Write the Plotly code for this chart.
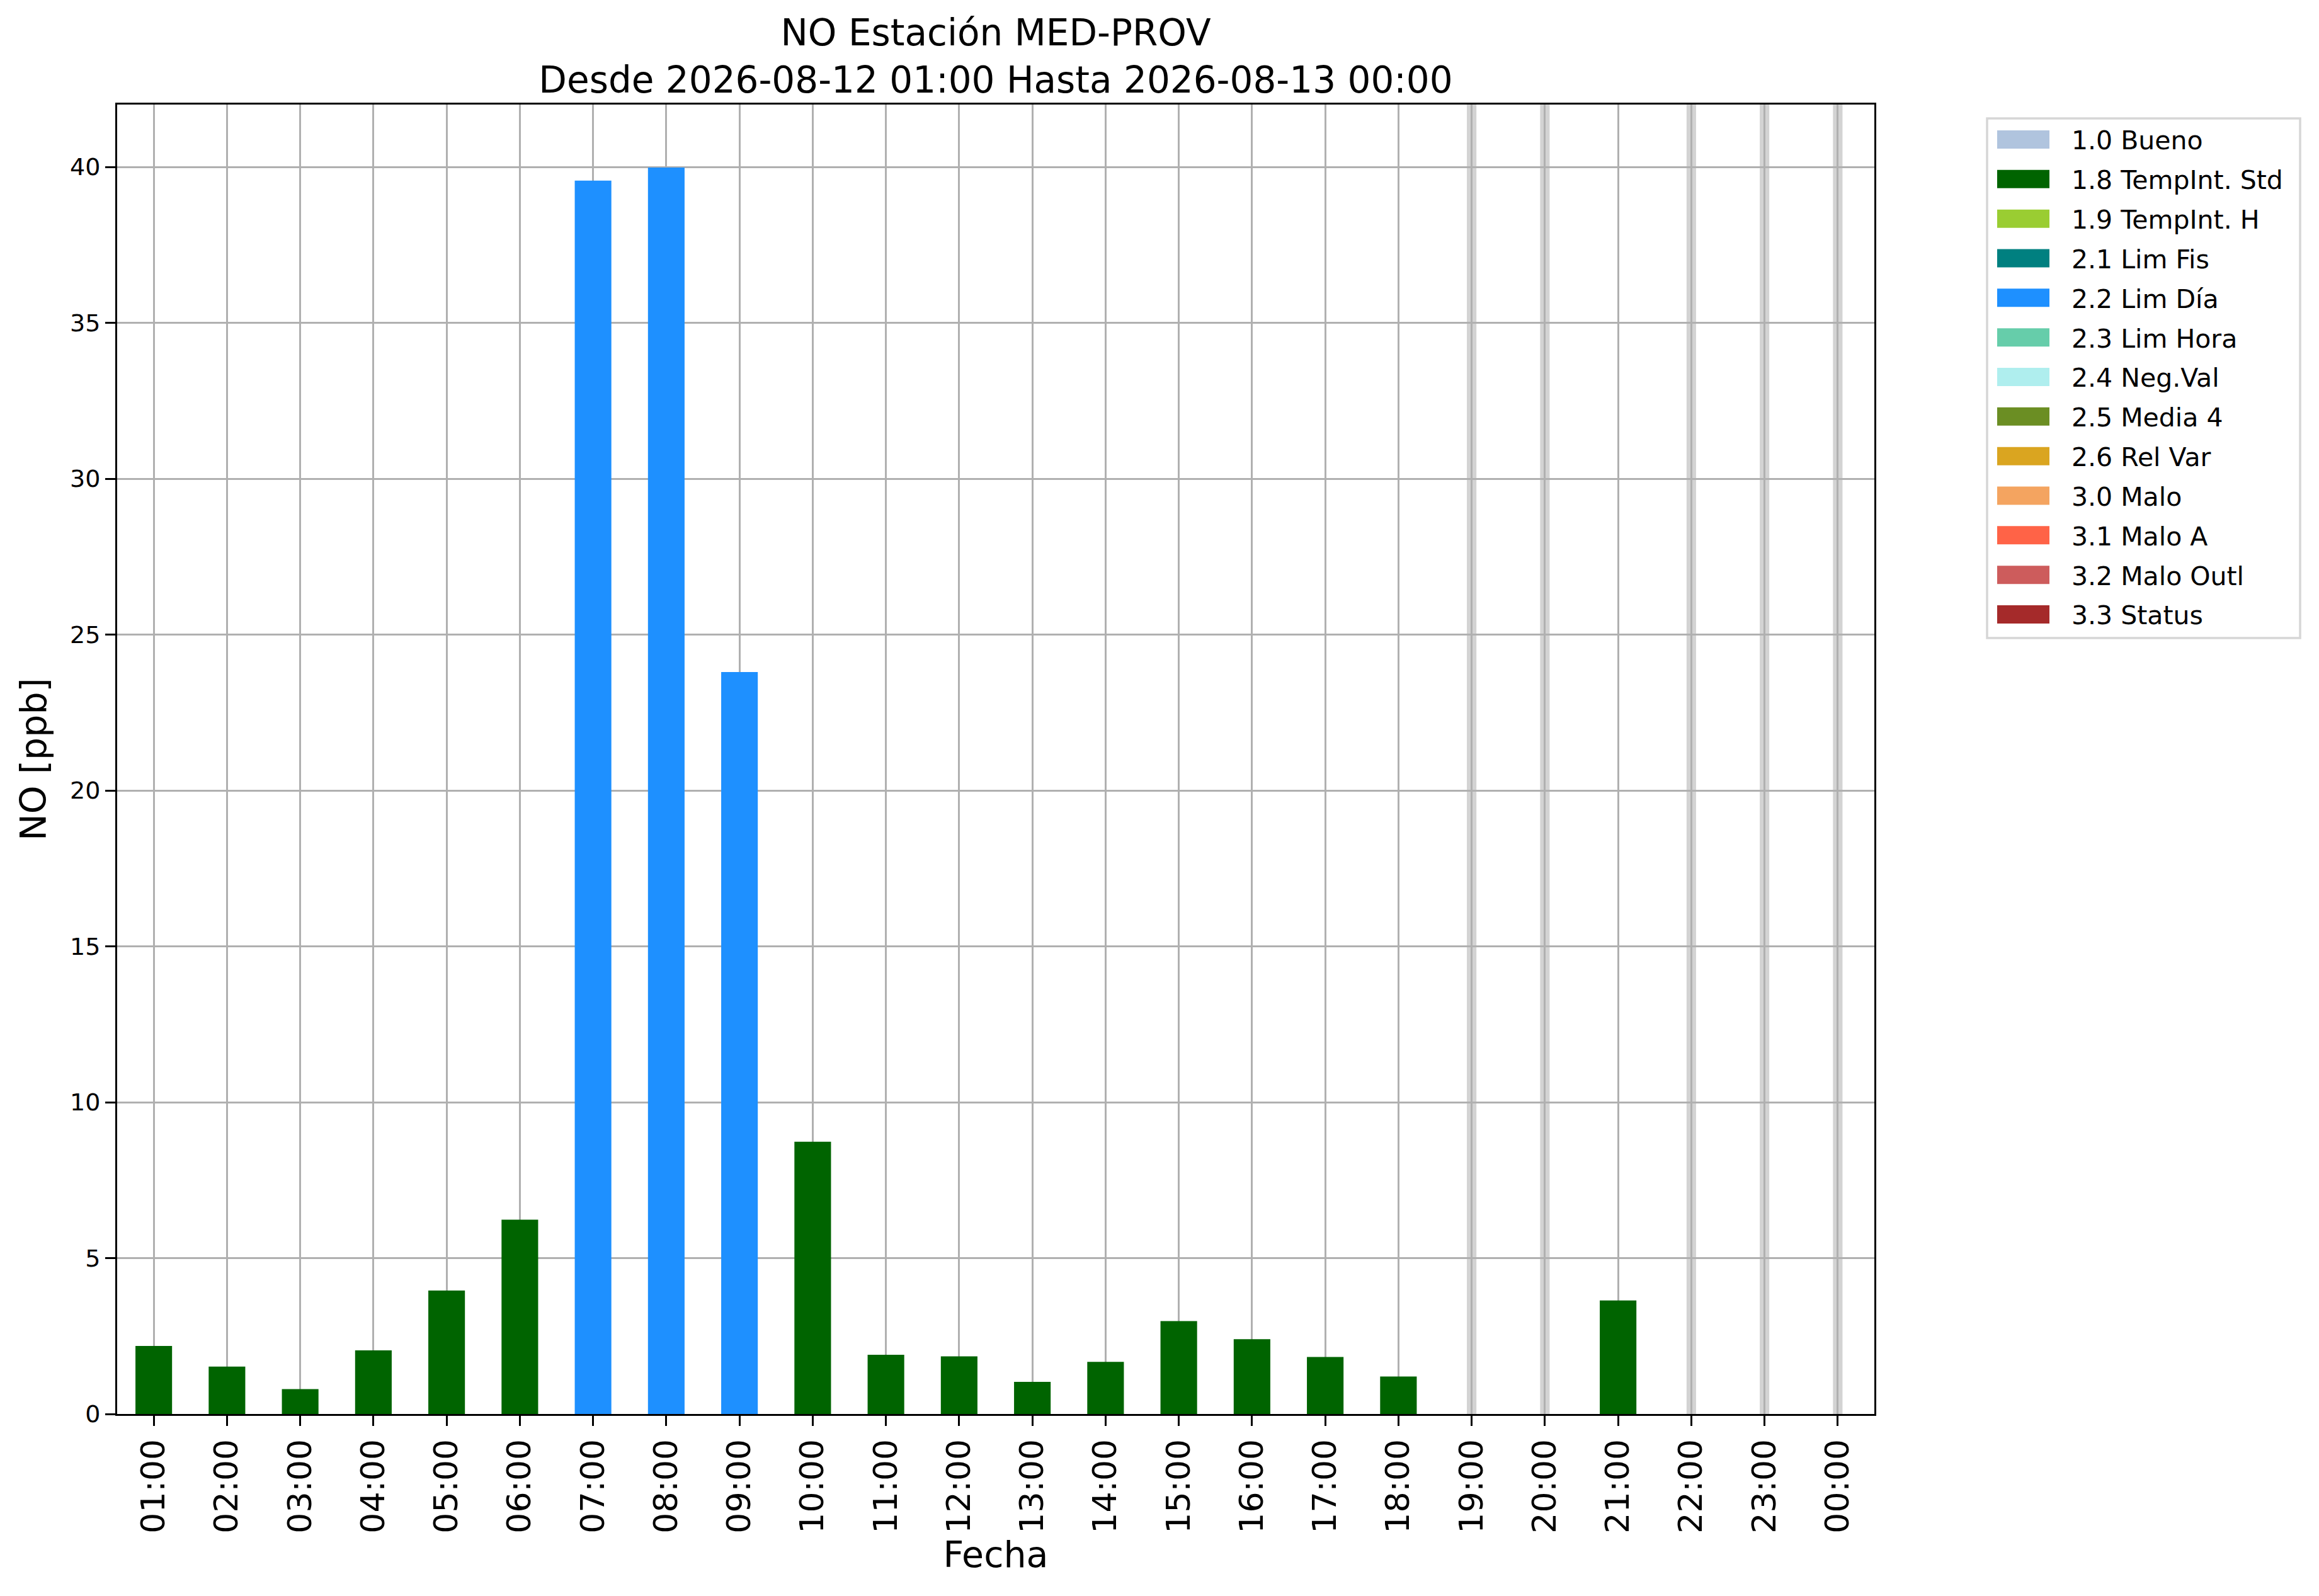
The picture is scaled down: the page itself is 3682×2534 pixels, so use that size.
import plotly.graph_objects as go

# hourly NO data, 2026-08-12 01:00 .. 2026-08-13 00:00
horas = ["01:00", "02:00", "03:00", "04:00", "05:00", "06:00", "07:00", "08:00",
         "09:00", "10:00", "11:00", "12:00", "13:00", "14:00", "15:00", "16:00",
         "17:00", "18:00", "19:00", "20:00", "21:00", "22:00", "23:00", "00:00"]
no_ppb = [2.18, 1.52, 0.80, 2.04, 3.96, 6.23, 39.56, 39.98,
          23.80, 8.73, 1.90, 1.85, 1.03, 1.67, 2.98, 2.40,
          1.83, 1.20, None, None, 3.64, None, None, None]
flag = ["1.8", "1.8", "1.8", "1.8", "1.8", "1.8", "2.2", "2.2",
        "2.2", "1.8", "1.8", "1.8", "1.8", "1.8", "1.8", "1.8",
        "1.8", "1.8", None, None, "1.8", None, None, None]

# flag codes, names and colours of the legend
flag_codes = ["1.0", "1.8", "1.9", "2.1", "2.2", "2.3", "2.4", "2.5", "2.6",
              "3.0", "3.1", "3.2", "3.3"]
flag_names = ["Bueno", "TempInt. Std", "TempInt. H", "Lim Fis", "Lim Día",
              "Lim Hora", "Neg.Val", "Media 4", "Rel Var", "Malo", "Malo A",
              "Malo Outl", "Status"]
flag_colors = ["#b0c4de", "#006400", "#9acd32", "#008080", "#1e90ff", "#66cdaa",
               "#afeeee", "#6b8e23", "#daa520", "#f4a460", "#ff6347", "#cd5c5c",
               "#a52a2a"]

FONT = "DejaVu Sans"
OFF = 8                              # default body margin of the html page
W, H = 3682 - 2 * OFF, 2534 - 2 * OFF
L, R, T, B = 186, 2976, 166, 2245   # plot area in page pixels

fig = go.Figure()

for code, name, color in zip(flag_codes, flag_names, flag_colors):
    ys = [v if f == code else None for v, f in zip(no_ppb, flag)]
    if all(v is None for v in ys):
        continue
    fig.add_trace(go.Bar(x=horas, y=ys, name=f"{code} {name}", width=0.5,
                         marker=dict(color=color, line=dict(width=0)),
                         showlegend=False))

# missing hours -> thin gray band
for i, v in enumerate(no_ppb):
    if v is None:
        fig.add_shape(type="rect", xref="x", yref="y domain", x0=i - 0.065, x1=i + 0.065,
                      y0=0, y1=1, fillcolor="#d3d3d3", line=dict(width=0), layer="below")

# legend drawn like the matplotlib one
def px_x(p):
    return (p - L) / (R - L)

def px_y(p):
    return (B - p) / (B - T)

fig.add_shape(type="rect", xref="paper", yref="paper",
              x0=px_x(3155), x1=px_x(3652), y0=px_y(188), y1=px_y(1013),
              line=dict(color="#d6d6d6", width=3.5), fillcolor="white")
for k, (code, name, color) in enumerate(zip(flag_codes, flag_names, flag_colors)):
    yc = 221.5 + k * 62.83
    fig.add_shape(type="rect", xref="paper", yref="paper",
                  x0=px_x(3171), x1=px_x(3254), y0=px_y(yc - 14.5), y1=px_y(yc + 14.5),
                  fillcolor=color, line=dict(width=0))
    fig.add_annotation(xref="paper", yref="paper", x=px_x(3287), y=px_y(yc + 2),
                       text=f"{code} {name}", showarrow=False, xanchor="left",
                       yanchor="middle", font=dict(family=FONT, size=41, color="black"))

fig.update_layout(
    width=W, height=H,
    margin=dict(l=L - OFF, r=W - (R - OFF), t=T - OFF, b=H - (B - OFF), autoexpand=False),
    paper_bgcolor="white", plot_bgcolor="white",
    font=dict(family=FONT, color="black"),
    title=dict(text="NO Estación MED-PROV<br>Desde 2026-08-12 01:00 Hasta 2026-08-13 00:00",
               x=0.5, xref="paper", xanchor="center",
               y=1 - 64 / H, yref="container", yanchor="top",
               font=dict(family=FONT, size=58, color="black")),
    barmode="overlay",
)

fig.update_xaxes(
    type="category", range=[-0.5, len(horas) - 0.5],
    tickangle=-90, tickfont=dict(size=52), ticks="outside", ticklen=16, tickwidth=3,
    tickcolor="black", showgrid=True, gridcolor="#b0b0b0", gridwidth=3,
    showline=True, linecolor="black", linewidth=3, mirror=True,
    title=dict(text="Fecha", font=dict(size=57), standoff=14),
    automargin=False,
)
fig.update_yaxes(
    range=[0, 42], dtick=5, tick0=0, tickfont=dict(size=38),
    ticks="outside", ticklen=16, tickwidth=3, tickcolor="black",
    showgrid=True, gridcolor="#b0b0b0", gridwidth=3, zeroline=False,
    showline=True, linecolor="black", linewidth=3, mirror=True,
    title=dict(text="NO [ppb]", font=dict(size=57), standoff=20),
    automargin=False,
)

fig.write_html("out.html")
